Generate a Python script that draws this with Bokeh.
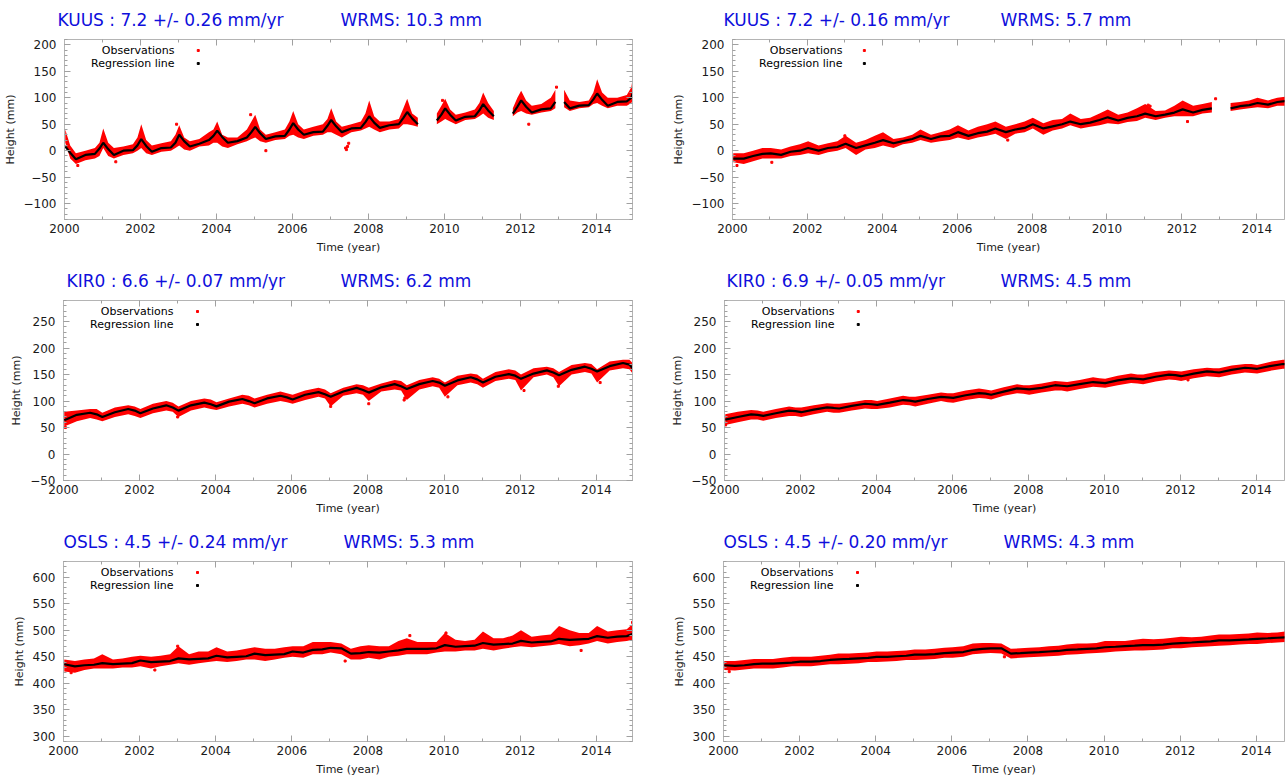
import numpy as np
from bokeh.plotting import figure
from bokeh.models import Range1d, LinearAxis, SingleIntervalTicker, Label, CustomJSTickFormatter
from bokeh.layouts import column, row
from bokeh.embed import file_html
from bokeh.resources import INLINE

FONT = "DejaVu Sans"
BLUE = "#0f0fdc"
FRAME_GRAY = "#b4b4b4"
TICK_GRAY = "#a0a0a0"

YEARS = list(range(2000, 2015))
T_END = 2014.95

# knot phases inside each year (time positions of the values)
PHASE_KUUS_L = [0.02, 0.15, 0.30, 0.55, 0.80, 0.92]
PHASE_KUUS_R = [0.02, 0.30, 0.55, 0.80]
PHASE_KIR0 = [0.02, 0.35, 0.70, 0.87]
PHASE_OSLS = [0.02, 0.30, 0.55, 0.80]

# ---------------- KUUS (left) ----------------
KUUS_L_reg = [8, -4, -16, -8, -6, 4,
              15, 3, -8, 0, 1, 10,
              22, 9, -2, 5, 6, 15,
              30, 18, 8, 13, 20, 28,
              38, 26, 15, 18, 25, 35,
              45, 33, 22, 27, 28, 40,
              52, 40, 30, 35, 36, 47,
              58, 46, 35, 42, 43, 54,
              65, 53, 43, 48, 50, 62,
              73, 61, 50, None, 57, 68,
              80, 68, 57, 64, 65, 76,
              88, 76, 65, None, 70, 83,
              95, 83, 72, 78, 80, 92,
              None, 92, 80, 85, 86, 97,
              108, 96, 85, 92, 93, 100,
              108]
KUUS_L_lo = [15, -15, -25, -18, -15, -10,
             5, -10, -15, -8, -5, 0,
             5, -5, -8, -2, 0, 5,
             10, 2, 0, 8, 10, 15,
             15, 8, 5, 12, 18, 22,
             25, 18, 15, 20, 22, 28,
             30, 25, 22, 28, 30, 35,
             35, 30, 25, 35, 38, 42,
             45, 40, 35, 40, 42, 50,
             50, 48, 45, None, 50, 55,
             60, 55, 50, 58, 60, 65,
             70, 62, 58, None, 65, 72,
             75, 70, 68, 72, 75, 80,
             None, 82, 75, 80, 82, 88,
             90, 85, 80, 85, 85, 90,
             95]
KUUS_L_hi = [40, 10, -5, 0, 5, 15,
             42, 15, 5, 8, 12, 25,
             50, 20, 10, 14, 18, 30,
             48, 25, 18, 22, 35, 40,
             55, 30, 25, 25, 40, 55,
             68, 40, 30, 35, 40, 55,
             75, 50, 40, 45, 50, 60,
             80, 55, 45, 50, 55, 70,
             95, 65, 55, 55, 60, 80,
             98, 70, 62, None, 70, 85,
             98, 78, 68, 72, 78, 90,
             110, 90, 75, None, 80, 100,
             113, 95, 85, 88, 100, 115,
             None, 115, 95, 92, 95, 110,
             135, 110, 100, 100, 105, 120,
             135]
KUUS_L_out_t = [2000.35, 2001.35, 2005.30, 2007.40, 2007.42, 2007.45, 2007.48, 2012.22,
                2012.95, 2004.90, 2002.95, 2009.95]
KUUS_L_out_v = [-28, -21, 0, 5, 2, 8, 14, 50, 120, 68, 50, 95]

# ---------------- KUUS (right) ----------------
KUUS_R_reg = [-15, -15, -10, -6,  -5, -8, -2, 0,  5, 0, 5, 7,  13, 5, 10, 15,
              20, 14, 18, 22,  28, 22, 27, 28,  35, 28, 33, 36,  42, 35, 40, 43,
              50, 42, 46, 50,  55, 50, 53, 58,  63, 57, 62, 65,  70, 65, 68, 72,
              78, 72, 77, 80,  None, 80, 84, 86,  90, 87, 92, 94,  96]
KUUS_R_lo = [-22, -25, -20, -15,  -15, -15, -10, -8,  -5, -8, -3, 0,  5, -8, 2, 5,
             10, 5, 12, 15,  20, 15, 18, 20,  25, 20, 25, 28,  32, 22, 32, 35,
             42, 30, 38, 42,  48, 42, 45, 48,  52, 50, 54, 56,  62, 58, 62, 65,
             65, 65, 70, 72,  None, 75, 78, 80,  82, 80, 85, 85,  90]
KUUS_R_hi = [-5, -5, 0, 5,  5, 2, 8, 12,  18, 10, 14, 18,  28, 15, 20, 28,
             35, 22, 25, 30,  40, 30, 35, 40,  48, 38, 45, 50,  55, 45, 50, 55,
             62, 52, 58, 60,  70, 60, 62, 70,  78, 68, 72, 80,  88, 75, 76, 85,
             95, 85, 88, 92,  None, 90, 92, 95,  100, 95, 100, 102,  112]
KUUS_R_out_t = [2000.12, 2001.05, 2011.10, 2011.15, 2012.15, 2014.93, 2007.35, 2003.00, 2012.90]
KUUS_R_out_v = [-28, -22, 86, 84, 55, 112, 20, 28, 98]

# ---------------- KIR0 (left) ----------------
KIR0_L_reg = [64, 74, 78, 75,  70, 79, 85, 82,  77, 86, 92, 88,  82, 92, 97, 94,
              90, 99, 104, 100,  96, 105, 110, 107,  103, 112, 117, 113,  108, 118, 125, 121,
              116, 126, 132, 128,  123, 132, 138, 135,  129, 139, 145, 141,  135, 146, 151, 148,
              142, 152, 158, 154,  149, 159, 165, 161,  156, 166, 172, 169,  162]
KIR0_L_lo = [52, 62, 68, 65,  62, 70, 75, 72,  68, 77, 82, 80,  70, 82, 88, 85,
             83, 90, 95, 92,  88, 95, 100, 98,  95, 102, 108, 105,  90, 110, 115, 112,
             100, 118, 122, 120,  102, 122, 128, 125,  108, 130, 135, 132,  125, 138, 142, 140,
             120, 145, 150, 145,  128, 150, 155, 152,  135, 158, 162, 160,  152]
KIR0_L_hi = [80, 82, 85, 85,  78, 88, 92, 90,  85, 95, 100, 97,  90, 100, 105, 103,
             98, 105, 112, 110,  105, 112, 118, 115,  112, 120, 125, 122,  115, 125, 132, 130,
             125, 133, 140, 138,  130, 140, 145, 142,  135, 148, 152, 150,  142, 155, 160, 158,
             150, 162, 165, 162,  155, 168, 172, 170,  160, 175, 178, 178,  172]
KIR0_L_out_t = [2000.05, 2008.95, 2008.97, 2007.02, 2010.10, 2012.10, 2003.00, 2008.02, 2014.10, 2013.00]
KIR0_L_out_v = [50, 102, 106, 90, 108, 120, 70, 95, 135, 128]

# ---------------- KIR0 (right) ----------------
KIR0_R_reg = [65, 70, 75, 74,  72, 77, 82, 81,  79, 84, 88, 87,  86, 91, 95, 94,
              93, 97, 102, 101,  99, 104, 108, 107,  106, 111, 115, 114,  112, 118, 124, 123,
              122, 125, 130, 129,  128, 132, 136, 135,  134, 139, 143, 142,  141, 146, 150, 149,
              147, 152, 156, 155,  154, 159, 163, 162,  161, 166, 170, 170,  173]
KIR0_R_lo = [55, 60, 65, 65,  63, 68, 72, 72,  70, 75, 80, 78,  78, 82, 86, 85,
             85, 88, 93, 92,  90, 95, 100, 98,  97, 102, 106, 105,  103, 110, 115, 114,
             112, 116, 120, 120,  118, 123, 127, 126,  125, 130, 134, 133,  132, 137, 141, 140,
             138, 143, 147, 146,  145, 150, 154, 153,  152, 157, 161, 161,  163]
KIR0_R_hi = [75, 80, 83, 82,  80, 85, 90, 88,  88, 92, 96, 95,  95, 98, 102, 102,
             100, 105, 110, 108,  108, 112, 116, 115,  115, 120, 124, 122,  120, 126, 132, 130,
             130, 133, 138, 137,  136, 140, 145, 143,  142, 148, 152, 150,  150, 155, 158, 157,
             156, 160, 163, 162,  162, 167, 170, 170,  168, 174, 178, 178,  180]
KIR0_R_out_t = [2000.03, 2012.20]
KIR0_R_out_v = [55, 140]

# ---------------- OSLS (left) ----------------
OSLS_L_reg = [436, 432, 434, 435,  438, 436, 437, 438,  443, 440, 441, 442,  447, 445, 446, 447,
              452, 449, 450, 451,  456, 453, 454, 455,  460, 458, 463, 464,  467, 466, 456, 457,
              459, 458, 460, 462,  465, 465, 465, 466,  472, 469, 470, 471,  476, 473, 474, 475,
              480, 477, 478, 479,  484, 482, 483, 484,  489, 486, 488, 489,  493]
OSLS_L_lo = [422, 420, 425, 428,  428, 428, 430, 430,  432, 428, 432, 435,  438, 435, 438, 440,
             442, 440, 442, 445,  445, 442, 445, 448,  450, 448, 455, 455,  458, 455, 445, 445,
             448, 445, 450, 452,  455, 455, 455, 458,  460, 460, 462, 462,  465, 462, 465, 468,
             470, 468, 470, 472,  474, 470, 472, 475,  480, 475, 478, 480,  482]
OSLS_L_hi = [445, 442, 445, 447,  455, 445, 447, 450,  452, 450, 452, 455,  470, 455, 460, 460,
             468, 460, 462, 465,  468, 465, 465, 468,  470, 470, 478, 478,  478, 475, 465, 470,
             472, 470, 470, 480,  485, 478, 478, 478,  495, 482, 480, 482,  498, 485, 485, 490,
             500, 488, 490, 492,  508, 500, 495, 495,  508, 498, 500, 502,  512]
OSLS_L_out_t = [2000.20, 2002.40, 2007.40, 2013.60, 2009.10, 2014.95, 2003.00, 2010.05]
OSLS_L_out_v = [420, 425, 442, 462, 490, 515, 470, 495]

# ---------------- OSLS (right) ----------------
OSLS_R_reg = [434, 433, 434, 436,  437, 437, 438, 439,  441, 441, 442, 444,  445, 446, 447, 448,
              450, 450, 451, 452,  454, 454, 455, 457,  458, 459, 463, 465,  466, 466, 456, 457,
              458, 459, 460, 461,  463, 464, 465, 466,  468, 469, 470, 471,  472, 472, 473, 475,
              476, 477, 478, 479,  481, 481, 482, 483,  484, 485, 486, 487,  489]
OSLS_R_lo = [425, 424, 426, 428,  428, 428, 430, 432,  432, 432, 434, 436,  436, 437, 438, 440,
             440, 441, 442, 444,  444, 445, 446, 448,  448, 450, 455, 456,  457, 456, 447, 448,
             449, 450, 451, 452,  454, 455, 456, 457,  458, 460, 461, 462,  462, 463, 464, 466,
             466, 468, 469, 470,  471, 472, 473, 474,  474, 476, 477, 478,  480]
OSLS_R_hi = [442, 442, 444, 446,  446, 446, 448, 450,  450, 450, 452, 454,  456, 456, 457, 458,
             460, 460, 461, 462,  464, 464, 465, 467,  468, 470, 475, 476,  476, 475, 465, 466,
             467, 468, 470, 471,  473, 475, 475, 476,  480, 480, 480, 482,  484, 483, 484, 486,
             488, 487, 488, 490,  492, 492, 493, 494,  496, 495, 496, 498,  502]
OSLS_R_out_t = [2000.15, 2007.38]
OSLS_R_out_v = [422, 450]

TITLES_L = ["KUUS : 7.2 +/- 0.26 mm/yr", "KIR0 : 6.6 +/- 0.07 mm/yr", "OSLS : 4.5 +/- 0.24 mm/yr"]
WRMS_L = ["WRMS: 10.3 mm", "WRMS: 6.2 mm", "WRMS: 5.3 mm"]
TITLES_R = ["KUUS : 7.2 +/- 0.16 mm/yr", "KIR0 : 6.9 +/- 0.05 mm/yr", "OSLS : 4.5 +/- 0.20 mm/yr"]
WRMS_R = ["WRMS: 5.7 mm", "WRMS: 4.5 mm", "WRMS: 4.3 mm"]
Y_RANGES = [(-130, 210), (-50, 290), (290, 630)]
LEGEND = ["Observations", "Regression line"]

# layout (pixels)
LEFT_W, LEFT_BL, LEFT_BR, LEFT_FW = 668, 63, 36, 569
RIGHT_W, RIGHT_BL, RIGHT_BR, RIGHT_FW = 618, 55, 2, 561
STRIP_H = 29
TOP_B = 10
FRAME_H = 180
BOTTOM_B = [42, 42, 37]


def knots(phases):
    return [y + f for y in YEARS for f in phases] + [T_END]


def runs(t, lo, hi):
    out, seg = [], []
    for ti, a, b in zip(t, lo, hi):
        if a is None or b is None:
            if len(seg) > 1:
                out.append(seg)
            seg = []
        else:
            seg.append((ti, a, b))
    if len(seg) > 1:
        out.append(seg)
    return out


def style_axis(ax, labels=True):
    ax.axis_line_color = FRAME_GRAY
    ax.major_tick_line_color = TICK_GRAY
    ax.minor_tick_line_color = TICK_GRAY
    ax.major_tick_in = 6
    ax.major_tick_out = 0
    ax.minor_tick_in = 3
    ax.minor_tick_out = 0
    ax.major_label_text_font = FONT
    ax.major_label_text_font_size = "12px"
    ax.major_label_text_color = "#1a1a1a"
    ax.axis_label_text_font = FONT
    ax.axis_label_text_font_size = "11px"
    ax.axis_label_text_font_style = "normal"
    ax.axis_label_text_color = "#1a1a1a"
    if not labels:
        ax.formatter = CustomJSTickFormatter(code="return ''")
        ax.major_label_standoff = 0
        ax.major_label_text_font_size = "1px"


def title_strip(width, frame_left, title, wrms, toff, woff):
    s = figure(width=width, height=STRIP_H, x_range=Range1d(0, width),
               y_range=Range1d(0, STRIP_H), output_backend="svg", toolbar_location=None,
               x_axis_type=None, y_axis_type=None, min_border=0,
               min_border_left=0, min_border_right=0, min_border_top=0, min_border_bottom=0)
    s.outline_line_color = None
    s.background_fill_color = "white"
    s.border_fill_color = "white"
    for txt, off in ((title, toff), (wrms, woff)):
        s.add_layout(Label(x=frame_left + off, y=10, x_units="screen", y_units="screen",
                           text=txt, text_baseline="middle", text_align="left",
                           text_font=FONT, text_font_size="17px", text_color=BLUE))
    return s


def panel(phases, reg, lo, hi, out_t, out_v, yr, right_side, bottom):
    if right_side:
        width, bl, br, frame_w = RIGHT_W, RIGHT_BL, RIGHT_BR, RIGHT_FW
    else:
        width, bl, br, frame_w = LEFT_W, LEFT_BL, LEFT_BR, LEFT_FW
    height = TOP_B + FRAME_H + bottom
    x_end = 2000 + frame_w * (T_END - 2000) / LEFT_FW
    p = figure(width=width, height=height, x_range=Range1d(2000, x_end),
               y_range=Range1d(yr[0], yr[1]), output_backend="svg",
               toolbar_location=None, x_axis_type=None, y_axis_type=None,
               min_border_left=bl, min_border_right=br,
               min_border_top=TOP_B, min_border_bottom=bottom,
               background_fill_color="white", border_fill_color="white")
    p.outline_line_color = FRAME_GRAY
    p.outline_line_width = 1

    xb = LinearAxis(ticker=SingleIntervalTicker(interval=2, num_minor_ticks=2),
                    axis_label="Time (year)")
    style_axis(xb)
    xb.major_label_standoff = 4
    xb.axis_label_standoff = 5
    p.add_layout(xb, "below")
    yl = LinearAxis(ticker=SingleIntervalTicker(interval=50, num_minor_ticks=5),
                    axis_label="Height (mm)")
    style_axis(yl)
    yl.major_label_standoff = 8
    yl.axis_label_standoff = 4
    p.add_layout(yl, "left")
    xa = LinearAxis(ticker=SingleIntervalTicker(interval=2, num_minor_ticks=2))
    style_axis(xa, labels=False)
    p.add_layout(xa, "above")
    if not right_side:
        yrx = LinearAxis(ticker=SingleIntervalTicker(interval=50, num_minor_ticks=5))
        style_axis(yrx, labels=False)
        p.add_layout(yrx, "right")

    t = knots(phases)
    for seg in runs(t, lo, hi):
        p.varea(x=[s[0] for s in seg], y1=[s[1] for s in seg], y2=[s[2] for s in seg],
                fill_color="#ff0000", fill_alpha=1.0)
    p.scatter(out_t, out_v, marker="square", size=2, color="#ff0000")
    reg_arr = np.array([np.nan if v is None else v for v in reg], dtype=float)
    p.line(t, reg_arr, line_color="black", line_width=2.2)

    # legend (gnuplot style: right aligned text, key to the right)
    xs_per_px = (x_end - 2000) / frame_w
    ys_per_px = (yr[1] - yr[0]) / FRAME_H
    for i, (lab, col) in enumerate(zip(LEGEND, ["#ff0000", "black"])):
        dy = 11 + 13 * i
        p.add_layout(Label(x=2000, y=yr[1], x_offset=110, y_offset=-dy, text=lab,
                           text_baseline="middle", text_align="right", text_font=FONT,
                           text_font_size="11px", text_color="black"))
        p.scatter([2000 + 134 * xs_per_px], [yr[1] - dy * ys_per_px], marker="square",
                  size=2, color=col)
    return p


L_DATA = [
    (PHASE_KUUS_L, KUUS_L_reg, KUUS_L_lo, KUUS_L_hi, KUUS_L_out_t, KUUS_L_out_v),
    (PHASE_KIR0, KIR0_L_reg, KIR0_L_lo, KIR0_L_hi, KIR0_L_out_t, KIR0_L_out_v),
    (PHASE_OSLS, OSLS_L_reg, OSLS_L_lo, OSLS_L_hi, OSLS_L_out_t, OSLS_L_out_v),
]
R_DATA = [
    (PHASE_KUUS_R, KUUS_R_reg, KUUS_R_lo, KUUS_R_hi, KUUS_R_out_t, KUUS_R_out_v),
    (PHASE_KIR0, KIR0_R_reg, KIR0_R_lo, KIR0_R_hi, KIR0_R_out_t, KIR0_R_out_v),
    (PHASE_OSLS, OSLS_R_reg, OSLS_R_lo, OSLS_R_hi, OSLS_R_out_t, OSLS_R_out_v),
]
T_OFF_L = [-6, 3, 0]
W_OFF_L = [277, 277, 280]
T_OFF_R = [0, 3, 0]
W_OFF_R = [277, 277, 280]

items = []
for i in range(3):
    sl = title_strip(LEFT_W, LEFT_BL, TITLES_L[i], WRMS_L[i], T_OFF_L[i], W_OFF_L[i])
    sr = title_strip(RIGHT_W, RIGHT_BL, TITLES_R[i], WRMS_R[i], T_OFF_R[i], W_OFF_R[i])
    items.append(row(sl, sr, spacing=0))
    pl = panel(*L_DATA[i], Y_RANGES[i], False, BOTTOM_B[i])
    pr = panel(*R_DATA[i], Y_RANGES[i], True, BOTTOM_B[i])
    items.append(row(pl, pr, spacing=0))

layout = column(*items, spacing=0)
open("out.html", "w").write(file_html(layout, INLINE))
